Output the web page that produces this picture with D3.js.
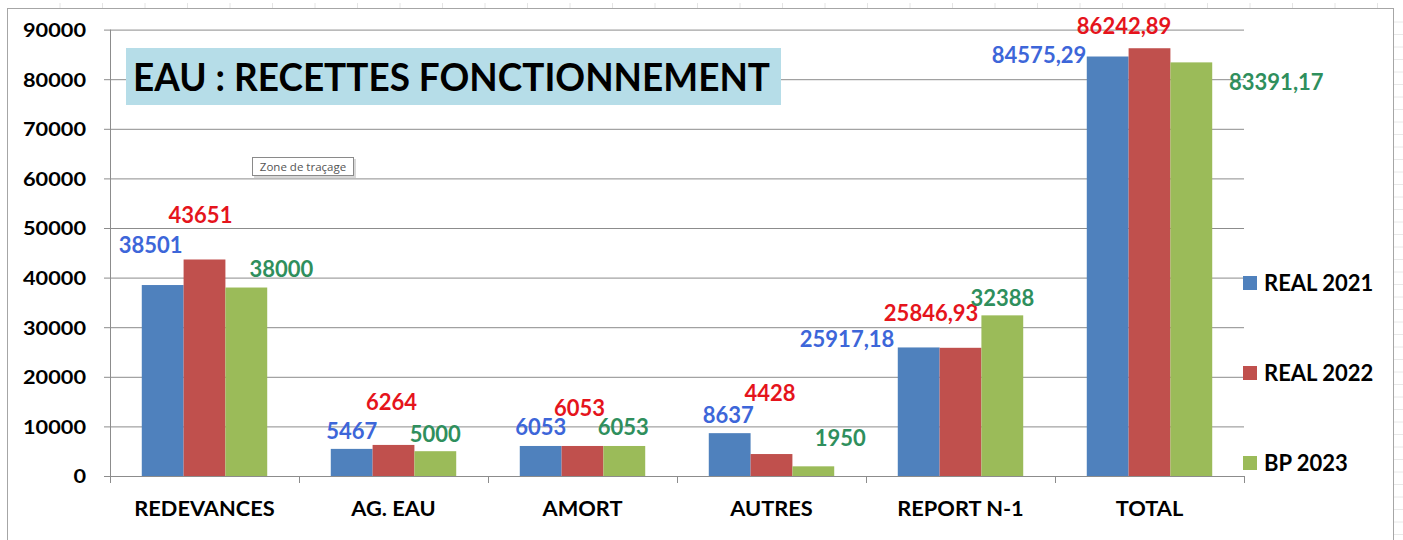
<!DOCTYPE html>
<html>
<head>
<meta charset="utf-8">
<script src="https://cdn.jsdelivr.net/npm/d3@7"></script>
<style>
  html, body { margin: 0; padding: 0; background: #fff; }
  svg { display: block; }
</style>
</head>
<body>
<svg id="chart" width="1403" height="540"></svg>
<script>
// ---- data ----
const categories = ["REDEVANCES", "AG. EAU", "AMORT", "AUTRES", "REPORT N-1", "TOTAL"];
const seriesNames = ["REAL 2021", "REAL 2022", "BP 2023"];
const real2021 = [38501, 5467, 6053, 8637, 25917.18, 84575.29];
const real2022 = [43651, 6264, 6053, 4428, 25846.93, 86242.89];
const bp2023   = [38000, 5000, 6053, 1950, 32388, 83391.17];
const valueLabels2021 = ["38501", "5467", "6053", "8637", "25917,18", "84575,29"];
const valueLabels2022 = ["43651", "6264", "6053", "4428", "25846,93", "86242,89"];
const valueLabels2023 = ["38000", "5000", "6053", "1950", "32388", "83391,17"];
const yTicks = [0, 10000, 20000, 30000, 40000, 50000, 60000, 70000, 80000, 90000];
const titleText = "EAU : RECETTES  FONCTIONNEMENT";

// ---- layout / style (not data) ----
const barColors = ["#4f81bd", "#c0504d", "#9bbb59"];
const labelColors = ["#3d66d9", "#e5141c", "#2f8f5d"];
// manual data-label offsets (dx, dy) from bar top-centre, as placed in the original
const labelOffsets = [
  [[-12, -40], [0, -18], [0, -18.5], [-1.5, -18], [-71.6, -8.5], [-68.6, -1.5]],
  [[-4, -44.5], [-2, -42.5], [-3, -38], [-1.5, -61], [-29.4, -35], [-25.4, -22]],
  [[35, -18.5], [0, -17], [-1, -18.5], [27, -28], [0, -17.5], [85, 19.6]]
];
const FONT = "Lato, 'Open Sans', sans-serif";

const svg = d3.select("#chart");
const plot = { left: 110, right: 1244, top: 29.6, bottom: 476 };

const x = d3.scaleBand().domain(categories).range([plot.left, plot.right]).paddingInner(0).paddingOuter(0);
const xInner = d3.scaleBand().domain(seriesNames).range([0, x.bandwidth()]).paddingOuter(0.76).paddingInner(0);
const y = d3.scaleLinear().domain([0, 90000]).range([plot.bottom, plot.top]);

// outer chart frame
svg.append("rect").attr("x", 7.5).attr("y", 8.5).attr("width", 1386).attr("height", 545)
  .attr("fill", "#fff").attr("stroke", "#a6a6a6").attr("stroke-width", 1);

// faint spreadsheet marks outside the frame
const topMarks = d3.range(60, 1390, 42.5);
svg.append("g").selectAll("line").data(topMarks).join("line")
  .attr("x1", d => d).attr("x2", d => d).attr("y1", 3).attr("y2", 8)
  .attr("stroke", "#e4e4e4");
const sideMarks = d3.range(22, 540, 12.5);
svg.append("g").selectAll("line").data(sideMarks).join("line")
  .attr("x1", 1394).attr("x2", 1403).attr("y1", d => d).attr("y2", d => d)
  .attr("stroke", "#e8e8e8");

// gridlines + y axis
const yAxis = d3.axisLeft(y).tickValues(yTicks).tickSize(-(plot.right - plot.left)).tickSizeOuter(0).tickPadding(24)
  .tickFormat(d3.format("d"));
const gy = svg.append("g").attr("transform", `translate(${plot.left},0)`).call(yAxis);
gy.selectAll(".tick line").attr("stroke", "#8c8c8c").attr("x1", -6);
gy.selectAll(".tick text").attr("font-family", FONT).attr("font-weight", "bold").attr("font-size", 19)
  .attr("fill", "#000").attr("dy", "0.36em")
  .attr("textLength", function () { return this.textContent.length * 12.6; })
  .attr("lengthAdjust", "spacingAndGlyphs");
gy.select(".domain").remove();
svg.append("line").attr("x1", plot.left + 0.5).attr("x2", plot.left + 0.5).attr("y1", plot.top).attr("y2", plot.bottom)
  .attr("stroke", "#8c8c8c");

// x axis
const xAxis = d3.axisBottom(x).tickSize(0).tickPadding(33);
const gx = svg.append("g").attr("transform", `translate(0,${plot.bottom})`).call(xAxis);
gx.select(".domain").attr("stroke", "#8c8c8c");
gx.selectAll(".tick text").attr("font-family", FONT).attr("font-weight", "bold").attr("font-size", 20)
  .attr("fill", "#000").attr("dy", "0.36em")
  .attr("transform", "scale(1.09,1)");
// category separators
const seps = categories.map(c => x(c)).concat([plot.right]);
svg.append("g").selectAll("line").data(seps).join("line")
  .attr("x1", d => Math.round(d) + 0.5).attr("x2", d => Math.round(d) + 0.5)
  .attr("y1", plot.bottom).attr("y2", plot.bottom + 7).attr("stroke", "#8c8c8c");

// bars
const allSeries = [real2021, real2022, bp2023];
const allLabels = [valueLabels2021, valueLabels2022, valueLabels2023];
allSeries.forEach((vals, s) => {
  svg.append("g").selectAll("rect").data(vals).join("rect")
    .attr("x", (d, i) => x(categories[i]) + xInner(seriesNames[s]))
    .attr("width", xInner.bandwidth())
    .attr("y", d => y(d))
    .attr("height", d => y(0) - y(d))
    .attr("fill", barColors[s]);
});

// title box (drawn on top of gridlines)
svg.append("rect").attr("x", 126).attr("y", 48).attr("width", 655).attr("height", 57).attr("fill", "#b6dde8");
svg.append("text").attr("x", 133).attr("y", 77).attr("dy", "0.36em")
  .attr("font-family", FONT).attr("font-weight", "bold").attr("font-size", 39)
  .attr("textLength", 637).attr("lengthAdjust", "spacingAndGlyphs")
  .attr("fill", "#000").text(titleText);

// tooltip "Zone de traçage"
svg.append("rect").attr("x", 254).attr("y", 159).attr("width", 102).attr("height", 19).attr("fill", "#c8c8c8").attr("opacity", 0.7);
svg.append("rect").attr("x", 252.5).attr("y", 157.5).attr("width", 101).attr("height", 18).attr("fill", "#fff").attr("stroke", "#8a8a8a");
svg.append("text").attr("x", 303).attr("y", 167).attr("dy", "0.35em").attr("text-anchor", "middle")
  .attr("font-family", "'Open Sans', 'Noto Sans', sans-serif").attr("font-size", 11.5).attr("fill", "#555").text("Zone de traçage");

// data labels
allSeries.forEach((vals, s) => {
  svg.append("g").selectAll("text").data(vals).join("text")
    .attr("x", (d, i) => x(categories[i]) + xInner(seriesNames[s]) + xInner.bandwidth() / 2 + labelOffsets[s][i][0])
    .attr("y", (d, i) => y(d) + labelOffsets[s][i][1])
    .attr("dy", "0.36em")
    .attr("text-anchor", "middle")
    .attr("font-family", FONT).attr("font-weight", "bold").attr("font-size", 22)
    .attr("fill", labelColors[s])
    .text((d, i) => allLabels[s][i]);
});

// legend
const legendY = d3.scalePoint().domain(seriesNames).range([283, 463]);
const lg = svg.append("g");
seriesNames.forEach((n, s) => {
  lg.append("rect").attr("x", 1243).attr("y", legendY(n) - 7).attr("width", 14).attr("height", 14).attr("fill", barColors[s]);
  lg.append("text").attr("x", 1264).attr("y", legendY(n)).attr("dy", "0.36em")
    .attr("font-family", FONT).attr("font-weight", "bold").attr("font-size", 22).attr("fill", "#000").text(n);
});
</script>
</body>
</html>
